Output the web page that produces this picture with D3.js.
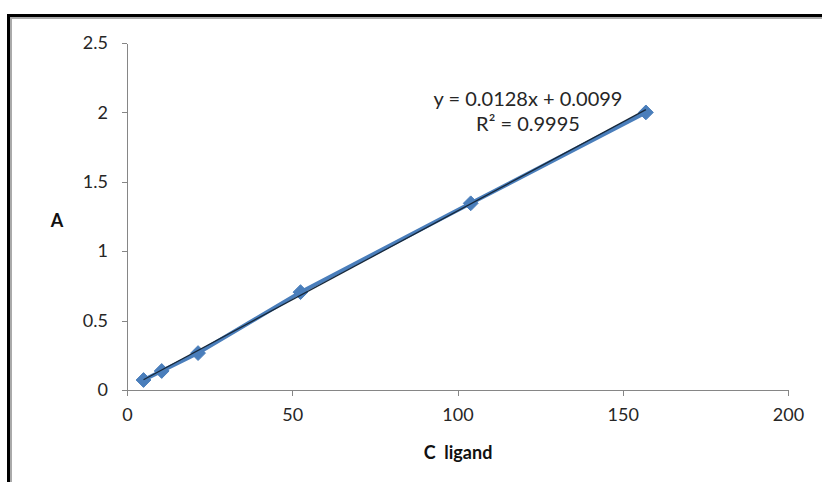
<!DOCTYPE html>
<html lang="en">
<head>
  <meta charset="UTF-8">
  <title>A vs C ligand</title>
  <script src="https://cdn.jsdelivr.net/npm/d3@7"></script>
  <style>
    body { margin: 0; background: #fff; }
    .axis path, .axis line {
      fill: none;
      stroke: #868686;
      shape-rendering: crispEdges;
    }
    .axis text {
      font-family: Lato, "Open Sans", sans-serif;
      font-size: 18px;
      fill: #262626;
    }
    .lbl {
      font-family: Lato, "Open Sans", sans-serif;
      font-size: 20px;
      fill: #262626;
    }
    .title {
      font-family: Lato, "Open Sans", sans-serif;
      font-size: 18px;
      font-weight: bold;
      fill: #111;
    }
  </style>
</head>
<body>
  <script>
// data
var cLigand = [5, 10.5, 21.5, 52.5, 104, 157];
var absorb = [0.072, 0.137, 0.266, 0.705, 1.345, 2.0];
var xTicks = [0, 50, 100, 150, 200];
var yTicks = [0, 0.5, 1, 1.5, 2, 2.5];
var slope = 0.0128, intercept = 0.0099;
var eqText = "y = 0.0128x + 0.0099";
var r2Text = "R² = 0.9995";

var w = 822, h = 482;

var svg = d3.select("body")
  .append("svg")
  .attr("width", w)
  .attr("height", h);

// frame (only top and left edge show in the crop)
svg.append("line").attr("x1", 7).attr("x2", w).attr("y1", 15.5).attr("y2", 15.5)
  .attr("stroke", "#000").attr("stroke-width", 3);
svg.append("line").attr("x1", 10).attr("x2", w).attr("y1", 18).attr("y2", 18)
  .attr("stroke", "#aaa").attr("stroke-width", 2);
svg.append("line").attr("x1", 8.5).attr("x2", 8.5).attr("y1", 14).attr("y2", h)
  .attr("stroke", "#000").attr("stroke-width", 3);
svg.append("line").attr("x1", 11).attr("x2", 11).attr("y1", 17).attr("y2", h)
  .attr("stroke", "#aaa").attr("stroke-width", 2);

var xScale = d3.scaleLinear().domain([0, 200]).range([127, 788]);
var yScale = d3.scaleLinear().domain([0, 2.5]).range([390, 43]);

var xAxis = d3.axisBottom(xScale).tickValues(xTicks).tickSize(6).tickSizeOuter(0).tickPadding(12);
svg.append("g")
  .attr("class", "axis")
  .attr("transform", "translate(0," + yScale(0) + ")")
  .call(xAxis);

var yAxis = d3.axisLeft(yScale).tickValues(yTicks).tickFormat(d3.format("~g"))
  .tickSize(5).tickSizeOuter(0).tickPadding(14);
svg.append("g")
  .attr("class", "axis")
  .attr("transform", "translate(" + xScale(0) + ",0)")
  .call(yAxis);

// series line
var line = d3.line()
  .x(function(d, i) { return xScale(cLigand[i]); })
  .y(function(d) { return yScale(d); });

svg.append("path")
  .datum(absorb)
  .attr("d", line)
  .attr("fill", "none")
  .attr("stroke", "#4a7ebb")
  .attr("stroke-width", 4);

// markers
svg.selectAll(".pt")
  .data(absorb)
  .enter()
  .append("path")
  .attr("class", "pt")
  .attr("d", d3.symbol().type(d3.symbolDiamond2).size(140))
  .attr("transform", function(d, i) {
    return "translate(" + xScale(cLigand[i]) + "," + yScale(d) + ")";
  })
  .attr("fill", "#4a7ebb")
  .attr("stroke", "#4a7ebb")
  .attr("stroke-width", 1);

// linear trendline
var x0 = cLigand[0], x1 = cLigand[cLigand.length - 1];
svg.append("line")
  .attr("x1", xScale(x0)).attr("y1", yScale(slope * x0 + intercept))
  .attr("x2", xScale(x1)).attr("y2", yScale(slope * x1 + intercept))
  .attr("stroke", "#17283a")
  .attr("stroke-width", 1.3);

// equation
svg.append("text").attr("class", "lbl")
  .attr("x", 528).attr("y", 106)
  .attr("text-anchor", "middle")
  .text(eqText);
svg.append("text").attr("class", "lbl")
  .attr("x", 528).attr("y", 131)
  .attr("text-anchor", "middle")
  .text(r2Text);

// axis titles
svg.append("text").attr("class", "title")
  .attr("x", 57).attr("y", 227)
  .attr("text-anchor", "middle")
  .text("A");
svg.append("text").attr("class", "title")
  .attr("x", 458).attr("y", 459)
  .attr("text-anchor", "middle")
  .style("white-space", "pre")
  .text("C  ligand");
  </script>
</body>
</html>
